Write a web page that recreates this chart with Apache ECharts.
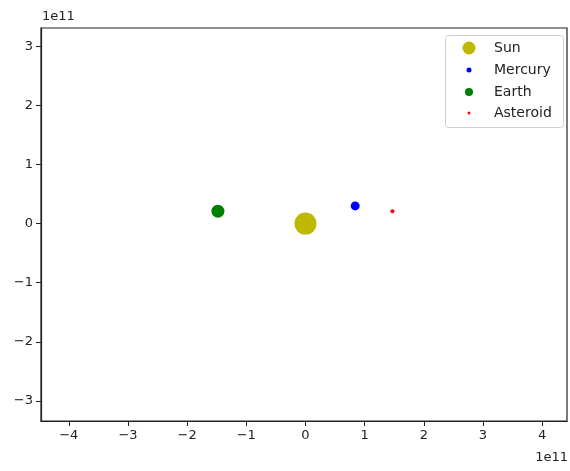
<!DOCTYPE html>
<html>
<head>
<meta charset="utf-8">
<script src="https://cdn.jsdelivr.net/npm/echarts@6/dist/echarts.min.js"></script>
<style>
  html, body { margin: 0; padding: 0; background: #fff; }
  #chart { width: 570px; height: 471px; }
</style>
</head>
<body>
<div id="chart"></div>
<script>
// Body positions in metres (x, y)
const bodies = ['Sun', 'Mercury', 'Earth', 'Asteroid'];
const sunPos = [[0, 0]];
const mercuryPos = [[0.84e11, 0.30e11]];
const earthPos = [[-1.48e11, 0.21e11]];
const asteroidPos = [[1.47e11, 0.21e11]];

// Tick positions (metres) and axis extents
const xTicks = [-4e11, -3e11, -2e11, -1e11, 0, 1e11, 2e11, 3e11, 4e11];
const yTicks = [-3e11, -2e11, -1e11, 0, 1e11, 2e11, 3e11];
const xRange = [-4.47e11, 4.42e11];
const yRange = [-3.34e11, 3.31e11];

const colors = { Sun: '#bfb800', Mercury: '#0000ff', Earth: '#008000', Asteroid: '#ff0000' };
const plotSize = { Sun: 22, Mercury: 9, Earth: 13, Asteroid: 4 };
const legendSize = { Sun: 13, Mercury: 5, Earth: 8, Asteroid: 3 };
const legendCenterY = { Sun: 48, Mercury: 70, Earth: 92, Asteroid: 113 };
const positions = { Sun: sunPos, Mercury: mercuryPos, Earth: earthPos, Asteroid: asteroidPos };

const FONT = 'DejaVu Sans';
const LEGEND_MARK_X = 469;   // centre of legend markers
const LEGEND_TEXT_X = 494;   // left edge of legend labels
const fmt = v => {
  const n = Math.round(v / 1e11);
  return n < 0 ? '\u2212' + Math.abs(n) : String(n);
};

const chart = echarts.init(document.getElementById('chart'), null, { renderer: 'canvas' });

const legends = bodies.map(name => {
  const s = legendSize[name];
  const left = LEGEND_MARK_X - s / 2;
  const pad = LEGEND_TEXT_X - (left + s + 5);
  return {
    show: true,
    data: [{ name: name, icon: 'circle' }],
    left: left,
    top: legendCenterY[name] - 8,
    height: 16,
    padding: 0,
    itemWidth: s,
    itemHeight: s,
    textStyle: { fontFamily: FONT, fontSize: 14, color: '#222', padding: [0, 0, 0, pad], lineHeight: 16 },
    selectedMode: false
  };
});

chart.setOption({
  animation: false,
  backgroundColor: '#fff',
  grid: {
    left: 41, top: 28, right: 3, bottom: 50,
    show: true, borderColor: '#222', borderWidth: 1.2, backgroundColor: 'transparent'
  },
  xAxis: {
    type: 'value',
    min: xRange[0], max: xRange[1],
    splitLine: { show: false },
    axisLine: { show: true, onZero: false, lineStyle: { color: '#222', width: 1.2 } },
    axisTick: { show: true, length: 5, customValues: xTicks, lineStyle: { color: '#222' } },
    axisLabel: {
      customValues: xTicks, formatter: fmt, margin: 8,
      fontFamily: FONT, fontSize: 13, color: '#222'
    }
  },
  yAxis: {
    type: 'value',
    min: yRange[0], max: yRange[1],
    splitLine: { show: false },
    axisLine: { show: true, onZero: false, lineStyle: { color: '#222', width: 1.2 } },
    axisTick: { show: true, length: 5, customValues: yTicks, lineStyle: { color: '#222' } },
    axisLabel: {
      customValues: yTicks, formatter: fmt, margin: 8,
      fontFamily: FONT, fontSize: 13, color: '#222'
    }
  },
  legend: legends,
  graphic: [
    {
      type: 'rect', z: 0,
      shape: { x: 445.5, y: 35.5, width: 118, height: 92, r: 3 },
      style: { fill: 'rgba(255,255,255,0.8)', stroke: '#d0d0d0', lineWidth: 1 }
    },
    {
      type: 'text', left: 42, top: 10,
      style: { text: '1e11', fontFamily: FONT, fontSize: 13, fill: '#222' }
    },
    {
      type: 'text', right: 2, top: 451,
      style: { text: '1e11', fontFamily: FONT, fontSize: 13, fill: '#222' }
    }
  ],
  series: bodies.map(name => ({
    name: name,
    type: 'scatter',
    data: positions[name],
    symbol: 'circle',
    symbolSize: plotSize[name],
    itemStyle: { color: colors[name], opacity: 1 },
    emphasis: { disabled: true }
  }))
});
</script>
</body>
</html>
